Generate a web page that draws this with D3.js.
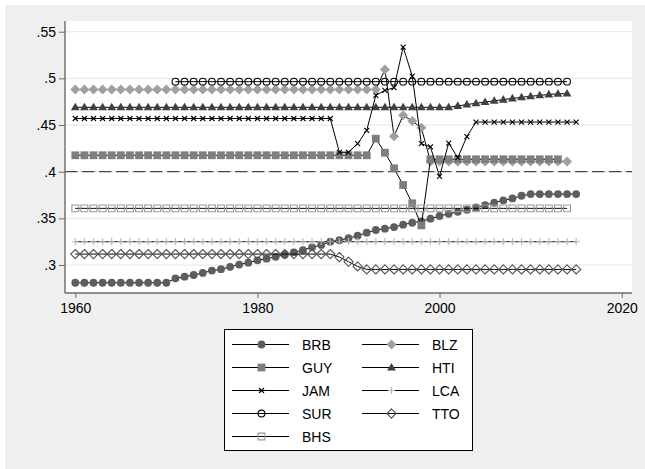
<!DOCTYPE html>
<html>
<head>
<meta charset="utf-8">
<script src="https://cdn.jsdelivr.net/npm/d3@7"></script>
<style>
body { margin: 0; background: #fff; }
text { font-family: "Liberation Sans", Arial, sans-serif; }
</style>
</head>
<body>
<div id="chart-area"></div>
<script>
// series, one value per year from its start year
var countries = ["BRB", "BLZ", "GUY", "HTI", "JAM", "LCA", "SUR", "TTO", "BHS"];
var startYears = [1960, 1960, 1960, 1960, 1960, 1960, 1971, 1960, 1960];

var brb = [.281, .281, .281, .281, .281, .281, .281, .281, .281, .281, .281,
    .2857, .2875, .2893, .2915, .294, .2955, .298, .3005, .3025, .305,
    .3068, .3088, .311, .3135, .316, .319, .3215, .325, .3266, .3287,
    .3314, .3346, .3375, .3389, .3407, .3432, .3453, .3468, .3496, .3525,
    .3549, .357, .3592, .3617, .3642, .3667, .3693, .3714, .3742,
    .376, .376, .376, .376, .376, .376];
var blz = [.488, .488, .488, .488, .488, .488, .488, .488, .488, .488,
    .488, .488, .488, .488, .488, .488, .488, .488, .488, .488,
    .488, .488, .488, .488, .488, .488, .488, .488, .488, .488,
    .488, .488, .488, .488, .5096, .438, .4604, .4543, .447,
    .411, .411, .411, .411, .411, .411, .411, .411, .411, .411,
    .411, .411, .411, .411, .411, .411];
var guy = [.4176, .4176, .4176, .4176, .4176, .4176, .4176, .4176, .4176, .4176,
    .4176, .4176, .4176, .4176, .4176, .4176, .4176, .4176, .4176, .4176,
    .4176, .4176, .4176, .4176, .4176, .4176, .4176, .4176, .4176, .4176,
    .4176, .4176, .4176, .4354, .4203, .4036, .3857, .3661, .3425,
    .4133, .4133, .4133, .4133, .4133, .4133, .4133, .4133, .4133, .4133,
    .4133, .4133, .4133, .4133, .4133];
var hti = [.469, .469, .469, .469, .469, .469, .469, .469, .469, .469,
    .469, .469, .469, .469, .469, .469, .469, .469, .469, .469,
    .469, .469, .469, .469, .469, .469, .469, .469, .469, .469,
    .469, .469, .469, .469, .469, .469, .469, .469, .469, .469,
    .469, .469, .4705, .472, .4733, .4746, .476, .4772, .4785, .4797,
    .4808, .4818, .4828, .4835, .4838];
var jam = [.457, .457, .457, .457, .457, .457, .457, .457, .457, .457,
    .457, .457, .457, .457, .457, .457, .457, .457, .457, .457,
    .457, .457, .457, .457, .457, .457, .457, .457, .457,
    .4208, .4208, .430, .4443, .4818, .4872, .490, .5336, .5025, .430,
    .4265, .395, .4307, .415, .4377,
    .4532, .4532, .4532, .4532, .4532, .4532, .4532, .4532, .4532, .4532,
    .4532, .4532];
var lca = [.325, .325, .325, .325, .325, .325, .325, .325, .325, .325,
    .325, .325, .325, .325, .325, .325, .325, .325, .325, .325,
    .325, .325, .325, .325, .325, .325, .325, .325, .325, .325,
    .325, .325, .325, .325, .325, .325, .325, .325, .325, .325,
    .325, .325, .325, .325, .325, .325, .325, .325, .325, .325,
    .325, .325, .325, .325, .325, .325];
var sur = [.4965, .4965, .4965, .4965, .4965, .4965, .4965, .4965, .4965, .4965,
    .4965, .4965, .4965, .4965, .4965, .4965, .4965, .4965, .4965, .4965,
    .4965, .4965, .4965, .4965, .4965, .4965, .4965, .4965, .4965, .4965,
    .4965, .4965, .4965, .4965, .4965, .4965, .4965, .4965, .4965, .4965,
    .4965, .4965, .4965, .4965];
var tto = [.3117, .3117, .3117, .3117, .3117, .3117, .3117, .3117, .3117, .3117,
    .3117, .3117, .3117, .3117, .3117, .3117, .3117, .3117, .3117, .3117,
    .3117, .3117, .3117, .3117, .3117, .3117, .3117, .3117, .3117,
    .3085, .3035, .2985,
    .2953, .2953, .2953, .2953, .2953, .2953, .2953, .2953, .2953, .2953,
    .2953, .2953, .2953, .2953, .2953, .2953, .2953, .2953, .2953, .2953,
    .2953, .2953, .2953, .2953];
var bhs = [.3607, .3607, .3607, .3607, .3607, .3607, .3607, .3607, .3607, .3607,
    .3607, .3607, .3607, .3607, .3607, .3607, .3607, .3607, .3607, .3607,
    .3607, .3607, .3607, .3607, .3607, .3607, .3607, .3607, .3607, .3607,
    .3607, .3607, .3607, .3607, .3607, .3607, .3607, .3607, .3607, .3607,
    .3607, .3607, .3607, .3607, .3607, .3607, .3607, .3607, .3607, .3607,
    .3607, .3607, .3607, .3607, .3607];

var seriesValues = [brb, blz, guy, hti, jam, lca, sur, tto, bhs];

var yTicks = [.3, .35, .4, .45, .5, .55];
var yTickLabels = [".3", ".35", ".4", ".45", ".5", ".55"];
var xTicks = [1960, 1980, 2000, 2020];
var refValue = .4;

// marker look for each country
var markerStyle = {
    BRB: { shape: "circle", fill: "#5e5e5e", stroke: "none" },
    BLZ: { shape: "diamond", fill: "#a0a0a0", stroke: "none" },
    GUY: { shape: "square", fill: "#7e7e7e", stroke: "none" },
    HTI: { shape: "triangle", fill: "#404040", stroke: "none" },
    JAM: { shape: "x", fill: "none", stroke: "#000" },
    LCA: { shape: "plus", fill: "none", stroke: "#b8b8b8" },
    SUR: { shape: "circle", r: 3.4, fill: "none", stroke: "#000" },
    TTO: { shape: "diamond", r: 4.6, fill: "none", stroke: "#555" },
    BHS: { shape: "square", r: 3.4, fill: "none", stroke: "#999" }
};

function markerPath(shape, r) {
    if (shape == "square") {
        r = r || 3.9;
        return "M" + (-r) + "," + (-r) + "h" + (2 * r) + "v" + (2 * r) + "h" + (-2 * r) + "Z";
    } else if (shape == "diamond") {
        r = r || 5;
        return "M0," + (-r) + "L" + r + ",0L0," + r + "L" + (-r) + ",0Z";
    } else if (shape == "triangle") {
        return "M0,-4.6L4.4,3L-4.4,3Z";
    } else if (shape == "x") {
        return "M-2.5,-2.5L2.5,2.5M-2.5,2.5L2.5,-2.5";
    } else if (shape == "plus") {
        return "M-3.6,0H3.6M0,-3.6V3.6";
    }
}

function drawMarker(g, name, x, y) {
    var st = markerStyle[name];
    var m;
    if (st.shape == "circle") {
        m = g.append("circle").attr("cx", x).attr("cy", y).attr("r", st.r || 3.9);
    } else {
        m = g.append("path")
            .attr("transform", "translate(" + x + "," + y + ")")
            .attr("d", markerPath(st.shape, st.r));
    }
    m.attr("fill", st.fill)
        .attr("stroke", st.stroke)
        .attr("stroke-width", st.stroke == "none" ? 0 : 1.1);
}

var W = 645, H = 469;
var svg = d3.select("#chart-area").append("svg")
    .attr("width", W)
    .attr("height", H);

svg.append("rect").attr("width", W).attr("height", H).attr("fill", "#fff");
svg.append("rect").attr("x", 5).attr("y", 5).attr("width", W - 5).attr("height", H - 5)
    .attr("fill", "#efefef");

var plotL = 65, plotR = 632, plotT = 21, plotB = 293;
svg.append("rect").attr("x", plotL).attr("y", plotT)
    .attr("width", plotR - plotL).attr("height", plotB - plotT)
    .attr("fill", "#fff");

var x = d3.scaleLinear().domain([1958.87, 2021.13]).range([plotL, plotR]);
var y = d3.scaleLinear().domain([.27, .5615]).range([plotB, plotT]);

// gridlines
svg.append("g").selectAll("line")
    .data(yTicks)
    .enter().append("line")
    .attr("x1", plotL).attr("x2", plotR)
    .attr("y1", function(d) { return y(d); })
    .attr("y2", function(d) { return y(d); })
    .attr("stroke", "#e6e6e6")
    .attr("stroke-width", 1);

// reference line
svg.append("line")
    .attr("x1", plotL).attr("x2", plotR)
    .attr("y1", y(refValue)).attr("y2", y(refValue))
    .attr("stroke", "#222")
    .attr("stroke-width", 1)
    .attr("stroke-dasharray", "12.5,4.5");

var line = d3.line()
    .x(function(d) { return x(d.year); })
    .y(function(d) { return y(d.value); });

countries.forEach(function(name, i) {
    var pts = seriesValues[i].map(function(v, j) {
        return { year: startYears[i] + j, value: v };
    });
    var g = svg.append("g");
    g.append("path")
        .datum(pts)
        .attr("d", line)
        .attr("fill", "none")
        .attr("stroke", "#000")
        .attr("stroke-width", 1);
    pts.forEach(function(p) {
        drawMarker(g, name, x(p.year), y(p.value));
    });
});

// axes
var yAxis = d3.axisLeft(y)
    .tickValues(yTicks)
    .tickFormat(function(d, i) { return yTickLabels[i]; })
    .tickSize(6)
    .tickPadding(3);
var gy = svg.append("g").attr("transform", "translate(" + plotL + ",0)").call(yAxis);
gy.select(".domain").attr("d", "M0," + plotT + "V" + plotB);

var xAxis = d3.axisBottom(x)
    .tickValues(xTicks)
    .tickFormat(d3.format("d"))
    .tickSize(5)
    .tickPadding(5);
var gx = svg.append("g").attr("transform", "translate(0," + plotB + ")").call(xAxis);
gx.select(".domain").attr("d", "M" + plotL + ",0H" + plotR);

svg.selectAll(".domain").attr("stroke", "#6a6a6a").attr("stroke-width", 1.4);
svg.selectAll(".tick line").attr("stroke", "#6a6a6a");
svg.selectAll(".tick text")
    .attr("fill", "#000")
    .style("font-size", "14px")
    .style("font-family", "'Liberation Sans', Arial, sans-serif");

// legend
var legend = svg.append("g");
legend.append("rect")
    .attr("x", 224.5).attr("y", 329.5)
    .attr("width", 248).attr("height", 121)
    .attr("fill", "#fff")
    .attr("stroke", "#000")
    .attr("stroke-width", 1);

countries.forEach(function(name, i) {
    var col = i % 2, row = Math.floor(i / 2);
    var lx = col == 0 ? 232 : 362;
    var ly = 344.5 + row * 23;
    legend.append("line")
        .attr("x1", lx).attr("x2", lx + 57)
        .attr("y1", ly).attr("y2", ly)
        .attr("stroke", "#000").attr("stroke-width", 1);
    drawMarker(legend, name, lx + 29.5, ly);
    legend.append("text")
        .attr("x", lx + 70)
        .attr("y", ly + 5)
        .style("font-size", "14px")
        .text(name);
});
</script>
</body>
</html>
